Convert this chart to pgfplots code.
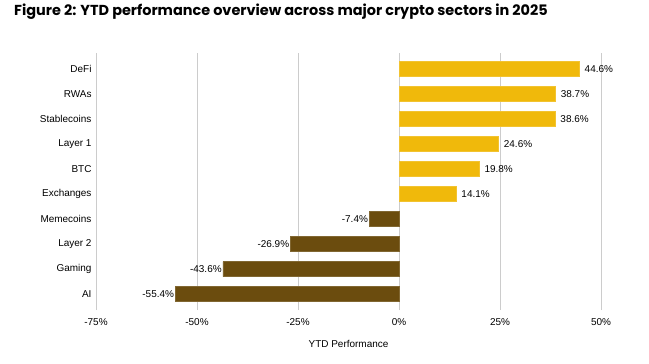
\documentclass[border=0pt]{standalone}
\usepackage{pgfplots}
\pgfplotsset{compat=1.18}
\usepackage{fontspec}
\setmainfont{Liberation Sans}
\newfontfamily\titlefont{Poppins}
\definecolor{gold}{HTML}{F0B90B}
\definecolor{brown}{HTML}{6B4C0E}
\definecolor{gridgray}{HTML}{CCCCCC}
\begin{document}
\begin{tikzpicture}[x=1bp,y=1bp]
\path[use as bounding box] (0,0) rectangle (649,363);
\node[anchor=west,inner sep=0pt] at (14,351) {\titlefont\bfseries\fontsize{14.5}{16}\selectfont Figure 2: YTD performance overview across major crypto sectors in 2025};
\begin{axis}[
  at={(96bp,53bp)}, anchor=south west,
  scale only axis, width=505bp, height=257bp,
  xbar, bar width=15bp, bar shift=0pt,
  xmin=-75, xmax=50, ymin=-0.64, ymax=9.64,
  xtick={-75,-50,-25,0,25,50},
  xticklabel={\pgfmathprintnumber{\tick}\%},
  ytick={0,...,9},
  yticklabels={AI,Gaming,Layer 2,Memecoins,Exchanges,BTC,Layer 1,Stablecoins,RWAs,DeFi},
  /pgf/number format/assume math mode=true,
  axis line style={draw=none},
  major tick length=0pt,
  xmajorgrids, major grid style={gridgray, line width=0.6bp},
  extra x ticks={0}, extra x tick labels={},
  extra x tick style={grid style={black, line width=0.8bp}},
  tick label style={font=\fontsize{10}{12}\selectfont},
  xticklabel style={yshift=-5bp},
  yticklabel style={xshift=-1bp},
  xlabel={YTD Performance},
  xlabel style={font=\fontsize{10}{12}\selectfont, yshift=-8bp},
  point meta=x,
  nodes near coords={\pgfmathprintnumber[fixed,fixed zerofill,precision=1]{\pgfplotspointmeta}\%},
  every node near coord/.append style={font=\fontsize{10}{12}\selectfont, black},
  clip=false,
]
\addplot[fill=gold, draw=gold!85!white, nodes near coords style={anchor=west, xshift=2bp}] coordinates {
(14.1,4) (19.8,5) (24.6,6) (38.6,7) (38.7,8) (44.6,9)
};
\addplot[fill=brown, draw=brown!85!white, nodes near coords style={anchor=east, inner sep=1bp}] coordinates {
(-55.4,0) (-43.6,1) (-26.9,2) (-7.4,3)
};
\end{axis}
\end{tikzpicture}
\end{document}
